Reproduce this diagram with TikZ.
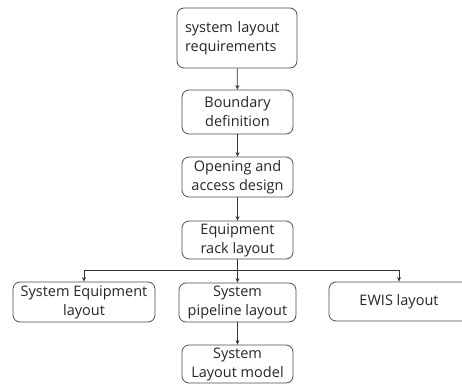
\documentclass[tikz,border=0pt]{standalone}
\usepackage{fontspec}
\setmainfont{Open Sans}
\usetikzlibrary{arrows.meta}
\begin{document}
\begin{tikzpicture}[x=1pt,y=-1pt,
  box/.style={draw=black!70, line width=0.8pt, rounded corners=7pt, inner sep=0pt,
    font=\fontsize{14.5}{19}\selectfont, text=black!85, align=center},
  conn/.style={draw=black!80, line width=0.7pt, -{Stealth[length=4.5pt,width=4pt]}},
  bus/.style={draw=black!80, line width=0.7pt}]
\useasboundingbox (0,0) rectangle (462,385);
\begin{scope}
\clip (0,0) rectangle (462,385);
\node[box, minimum width=120pt, minimum height=60pt, align=left, text width=104pt] (n1) at (237,38) {system layout\\requirements};
\node[box, minimum width=111pt, minimum height=44pt] (n2) at (237.5,112) {Boundary\\definition};
\node[box, minimum width=111pt, minimum height=40pt] (n3) at (237.5,177) {Opening and\\access design};
\node[box, minimum width=111pt, minimum height=38pt] (n4) at (237.5,240) {Equipment\\rack layout};
\node[box, minimum width=117pt, minimum height=39pt] (n5) at (237.5,302.5) {System\\pipeline layout};
\node[box, minimum width=111pt, minimum height=38pt] (n6) at (237.5,364) {System\\Layout model};
\node[box, minimum width=142pt, minimum height=40pt] (neq) at (84,302) {System Equipment\\layout};
\node[box, minimum width=140pt, minimum height=39pt] (new) at (399,301.5) {EWIS layout};
\coordinate (bl) at (84,270);
\coordinate (br) at (399,270);
\draw[conn] (n1) -- (n2);
\draw[conn] (n2) -- (n3);
\draw[conn] (n3) -- (n4);
\draw[conn] (n4) -- (n5);
\draw[conn] (n5) -- (n6);
\draw[bus] (bl) -- (br);
\draw[conn] (bl) -- (neq);
\draw[conn] (br) -- (new);
\end{scope}
\end{tikzpicture}
\end{document}
